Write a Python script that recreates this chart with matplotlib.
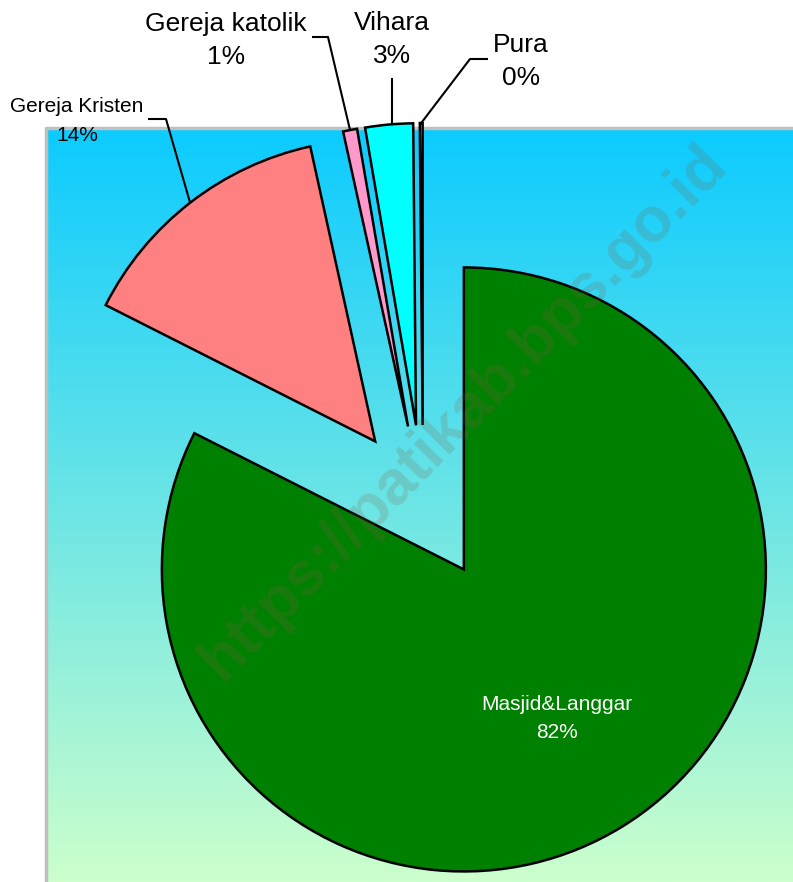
import numpy as np
import matplotlib.pyplot as plt

labels = ['Masjid&Langgar', 'Gereja Kristen', 'Gereja katolik', 'Vihara', 'Pura']
shares = [82.45, 14.1, 0.75, 2.55, 0.15]
colors = ['#008000', '#FF8080', '#FF99CC', '#00FFFF', '#FFFF99']

plt.rcParams['font.family'] = ['Liberation Sans', 'DejaVu Sans']

W, H = 793, 882
fig = plt.figure(figsize=(W / 100, H / 100), dpi=100)
ax = fig.add_axes([0, 0, 1, 1])

# gradient plot area (cyan -> pale green)
top = np.array([12, 203, 255]) / 255
bot = np.array([204, 255, 204]) / 255
t = np.linspace(0, 1, 256)[:, None]
grad = (top * (1 - t) + bot * t)[:, None, :]
ax.imshow(grad, extent=[46, W, 0, H - 128], aspect='auto', origin='upper', zorder=0)
ax.plot([46, 46, W], [0, H - 128, H - 128], color='#C0C0C0', lw=2.5, zorder=1)

# explode is in data units (pixels here)
cx, cy, r, ex = 423, H - 503, 302, 78
wedges, _ = ax.pie(shares, colors=colors, explode=[ex] * len(shares), center=(cx, cy),
                   radius=r, startangle=90, counterclock=False,
                   wedgeprops=dict(edgecolor='black', linewidth=1.8, joinstyle='miter'))
for w in wedges:
    w.set_zorder(2)

total = sum(shares)
pcts = ['%d%%' % round(100 * c / total) for c in shares]


def arc_point(w):
    mid = np.deg2rad((w.theta1 + w.theta2) / 2)
    d = r + ex
    return cx + d * np.cos(mid), cy + d * np.sin(mid)


# leader lines: elbow points in image pixels (y down)
elbows = {1: [(166, 119), (148, 119)], 2: [(328, 37), (312, 37)],
          3: [(392, 78)], 4: [(470, 59), (488, 59)]}
for i, pts in elbows.items():
    x0, y0 = arc_point(wedges[i])
    if i == 3:
        x0 = 392
    xs = [x0] + [p[0] for p in pts]
    ys = [y0] + [H - p[1] for p in pts]
    ax.plot(xs, ys, color='black', lw=1.5, zorder=1.5, solid_capstyle='butt')

# outside labels: (x center, baseline line1, baseline line2, size)
pos = {1: (77, 112, 141, 15), 2: (226, 31, 64, 19), 3: (392, 30, 63, 19), 4: (521, 52, 85, 19)}
for i, (x, b1, b2, fs) in pos.items():
    ax.text(x, H - b1, labels[i], ha='center', va='baseline', fontsize=fs, zorder=4)
    ax.text(x, H - b2, pcts[i], ha='center', va='baseline', fontsize=fs, zorder=4)

ax.text(557, H - 710, labels[0], ha='center', va='baseline', fontsize=15, color='white', zorder=4)
ax.text(557, H - 738, pcts[0], ha='center', va='baseline', fontsize=15, color='white', zorder=4)

# watermark
ax.text(464, H - 412, 'https://patikab.bps.go.id', rotation=45.5, fontsize=45, fontweight='bold',
        color='#806040', alpha=0.2, ha='center', va='center', rotation_mode='anchor', zorder=5)

ax.set_xlim(0, W)
ax.set_ylim(0, H)
ax.set_aspect('auto')
ax.axis('off')
fig.savefig('out.png', dpi=100)
